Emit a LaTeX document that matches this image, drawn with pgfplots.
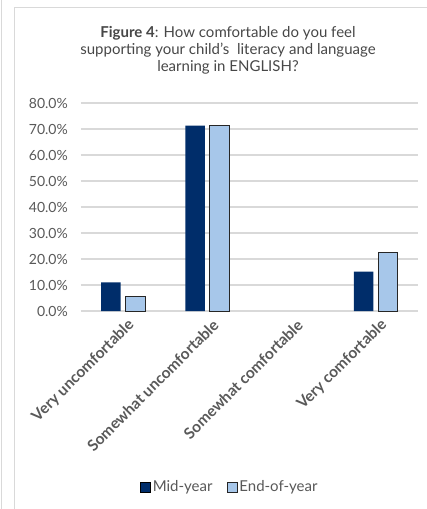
\documentclass[border=0pt]{standalone}
\usepackage{pgfplots}
\pgfplotsset{compat=1.18}
\usepackage{fontspec}
\setmainfont{Lato}
\definecolor{midblue}{HTML}{002D6A}
\definecolor{endblue}{HTML}{A7C7EA}
\definecolor{txtgray}{HTML}{595959}
\definecolor{gridgray}{HTML}{D9D9D9}
\begin{document}
\begin{tikzpicture}
\path[use as bounding box] (-81pt,-198pt) rectangle (346pt,311pt);
% frame lines of the original page
\draw[gridgray,line width=1pt] (-79.5pt,-198pt) -- (-79.5pt,311pt);
\draw[gridgray,line width=1pt] (-66.5pt,-198pt) -- (-66.5pt,303pt) -- (346pt,303pt);
\begin{axis}[
  at={(0,0)}, anchor=south west,
  scale only axis,
  width=337pt, height=208pt,
  ybar=5pt, bar width=19.5pt,
  xmin=-0.5, xmax=3.5,
  ymin=0, ymax=80,
  xtick={0,1,2,3},
  xticklabels={Very uncomfortable,Somewhat uncomfortable,Somewhat comfortable,Very comfortable},
  xticklabel style={rotate=45, anchor=east, font=\fontsize{15.5}{16}\selectfont\bfseries, text=txtgray, inner sep=0pt, yshift=-11pt, xshift=1pt},
  ytick={0,10,...,80},
  yticklabel={\pgfmathprintnumber[fixed,fixed zerofill,precision=1]{\tick}\%},
  yticklabel style={font=\fontsize{14}{15}\selectfont, text=txtgray, inner sep=0pt, xshift=-13pt},
  /pgf/number format/assume math mode=true,
  axis line style={draw=none},
  tick style={draw=none},
  ymajorgrids, grid style={gridgray, line width=1.2pt},
  legend style={at={(0.442,-0.846)}, anchor=center, legend columns=2, draw=none,
    font=\fontsize{15}{16}\selectfont, text=txtgray,
    /tikz/every even column/.append style={column sep=12pt}},
  legend image code/.code={\draw[#1] (0pt,-5pt) rectangle (10pt,5pt);},
]
% "Somewhat comfortable" is 0 in both series and is left out
\addplot[fill=midblue, draw=none] coordinates {(0,11.0) (1,71.3) (3,15.1)};
\addplot[fill=endblue, draw=black!85, line width=0.9pt] coordinates {(0,5.5) (1,71.2) (3,22.6)};
\legend{Mid-year,End-of-year}
\end{axis}
\node[align=center, text=txtgray!80!black, font=\fontsize{15}{17}\selectfont] at (147pt,261pt)
  {\textbf{Figure 4}: How comfortable do you feel\\supporting your child's\ \ literacy and language\\learning in ENGLISH?};
\end{tikzpicture}
\end{document}
